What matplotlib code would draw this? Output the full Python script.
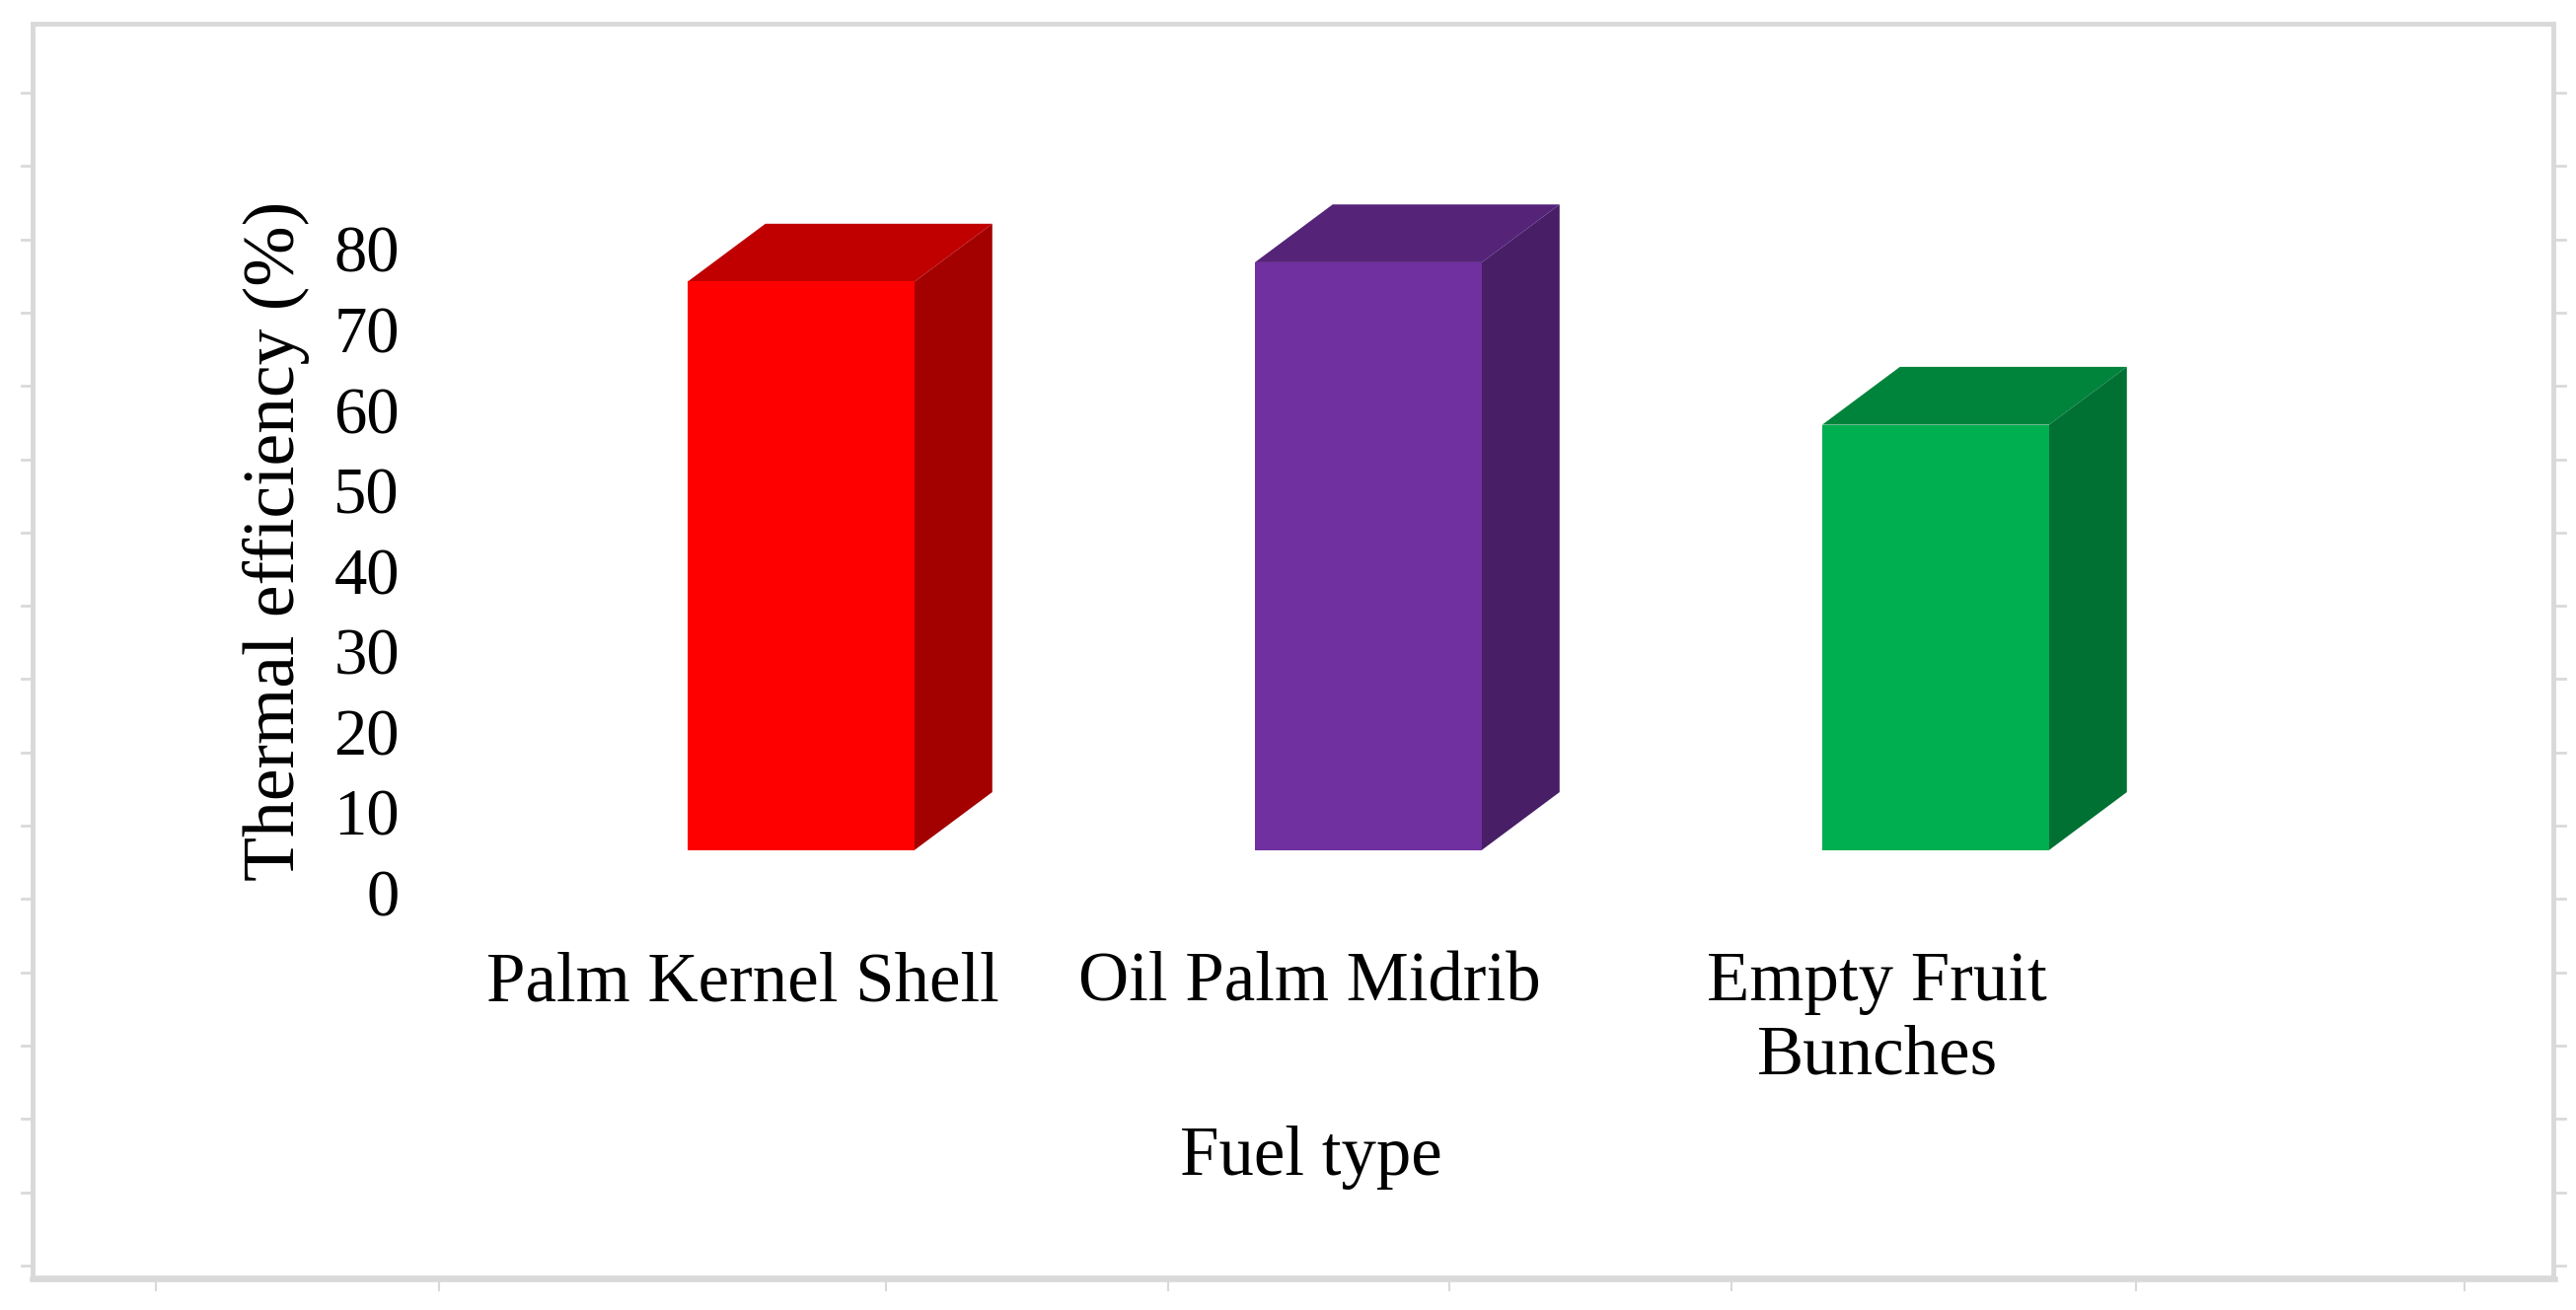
import numpy as np
import matplotlib.pyplot as plt
from matplotlib.patches import Polygon, Rectangle
from matplotlib.lines import Line2D

plt.rcParams['font.family'] = ['Liberation Serif', 'DejaVu Serif']

# data
fuels = ['Palm Kernel Shell', 'Oil Palm Midrib', 'Empty Fruit\nBunches']
efficiency = [70.7, 73.1, 52.9]
y_ticks = [0, 10, 20, 30, 40, 50, 60, 70, 80]

# colours: front, top, side
front_cols = ['#ff0000', '#7030a0', '#00b050']
top_cols = ['#c00000', '#552479', '#00843c']
side_cols = ['#a30000', '#481e66', '#007033']

W, H = 2611, 1328
fig = plt.figure(figsize=(W / 100, H / 100), dpi=100)

# pseudo-3D depth of the columns (data units)
bar_w = 0.4
dx = 0.137
dy = 7.2

# axes holding the columns
ax = fig.add_axes([380 / W, 1 - 861.7 / H, 2020 / W, 733.5 / H])
x = np.arange(len(fuels))
ax.bar(x, efficiency, width=bar_w, color=front_cols, zorder=3)
for xi, v, tc, sc in zip(x, efficiency, top_cols, side_cols):
    l, r = xi - bar_w / 2, xi + bar_w / 2
    ax.add_patch(Polygon([(l, v), (r, v), (r + dx, v + dy), (l + dx, v + dy)],
                         closed=True, facecolor=tc, edgecolor='none', zorder=2))
    ax.add_patch(Polygon([(r, 0), (r + dx, dy), (r + dx, v + dy), (r, v)],
                         closed=True, facecolor=sc, edgecolor='none', zorder=2))
ax.set_xlim((380 - 812) / 575, (2400 - 812) / 575)
ax.set_ylim(0, 90)
ax.set_xticks(x - 0.103)
ax.set_xticklabels(fuels, fontsize=51, linespacing=1.18, va='top')
ax.tick_params(axis='x', length=0, pad=74)
ax.set_yticks([])
for s in ax.spines.values():
    s.set_visible(False)
ax.patch.set_alpha(0)

# value axis labels (drawn a bit lower than the columns, as in the original)
ax2 = fig.add_axes([405 / W, 1 - 904.7 / H, 0.001, 652.2 / H])
ax2.set_ylim(0, 80)
ax2.set_yticks(y_ticks)
ax2.set_yticklabels([str(t) for t in y_ticks], fontsize=48)
ax2.tick_params(axis='y', length=0, pad=0)
ax2.set_xticks([])
for s in ax2.spines.values():
    s.set_visible(False)
ax2.patch.set_alpha(0)

fig.text(280 / W, 1 - 548 / H, 'Thermal efficiency (%)', rotation=90,
         fontsize=53, ha='center', va='center')
fig.text(1329 / W, 1 - 1174 / H, 'Fuel type', fontsize=51,
         ha='center', va='center')

# chart border and worksheet grid stubs
grey = '#d9d9d9'
fig.add_artist(Rectangle((33 / W, 1 - 1295 / H), (2588 - 33) / W, (1295 - 24) / H,
                         transform=fig.transFigure, fill=False, edgecolor=grey, lw=3.5))
fig.add_artist(Line2D([33 / W, 2590 / W], [1 - 1297 / H, 1 - 1297 / H],
                      transform=fig.transFigure, color=grey, lw=4))
for yy in np.arange(94, 1290, 74.3):
    fig.add_artist(Line2D([22 / W, 32 / W], [1 - yy / H] * 2,
                          transform=fig.transFigure, color=grey, lw=2))
    fig.add_artist(Line2D([2590 / W, 2600 / W], [1 - yy / H] * 2,
                          transform=fig.transFigure, color=grey, lw=2))
for xx in [158, 445, 898, 1184, 1469, 1755, 2165, 2498]:
    fig.add_artist(Line2D([xx / W] * 2, [1 - 1299 / H, 1 - 1308 / H],
                          transform=fig.transFigure, color=grey, lw=1.5))

fig.savefig('out.png', dpi=100)
